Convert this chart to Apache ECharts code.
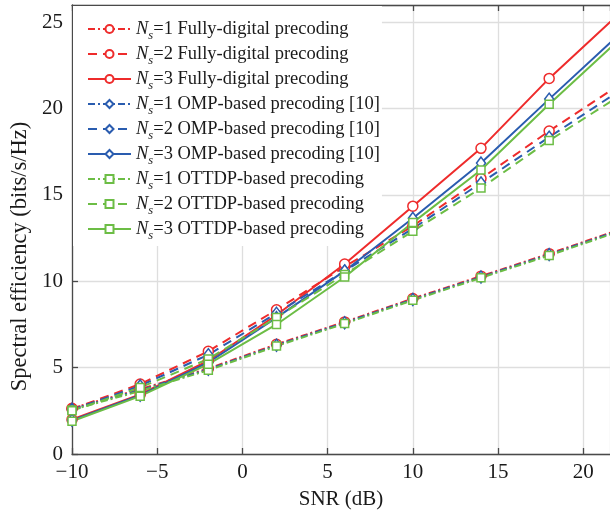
<!DOCTYPE html>
<html><head><meta charset="utf-8">
<script src="https://cdn.jsdelivr.net/npm/echarts@6/dist/echarts.min.js"></script>
<style>html,body{margin:0;padding:0;background:#fff}#c{width:610px;height:516px}</style>
</head><body><div id="c"></div>
<script>
var snr = [-10, -6, -2, 2, 6, 10, 14, 18, 22];
var fd1 = [2.65, 3.75, 4.95, 6.35, 7.65, 9.0, 10.3, 11.6, 12.95];
var fd2 = [2.6, 4.05, 5.95, 8.35, 10.85, 13.2, 15.95, 18.7, 21.3];
var fd3 = [2.0, 3.45, 5.4, 8.05, 11.0, 14.35, 17.7, 21.75, 25.4];
var omp1 = [2.6, 3.7, 4.9, 6.3, 7.6, 8.95, 10.25, 11.55, 12.9];
var omp2 = [2.55, 3.95, 5.75, 8.15, 10.6, 13.05, 15.7, 18.35, 20.95];
var omp3 = [1.95, 3.4, 5.3, 7.9, 10.6, 13.65, 16.85, 20.55, 24.2];
var ott1 = [2.55, 3.65, 4.85, 6.25, 7.55, 8.9, 10.2, 11.5, 12.85];
var ott2 = [2.5, 3.85, 5.5, 7.9, 10.4, 12.9, 15.4, 18.15, 20.65];
var ott3 = [1.9, 3.35, 5.2, 7.5, 10.25, 13.4, 16.45, 20.25, 23.9];
var nsLabels = ['1', '2', '3'];
var methodNames = ['Fully-digital precoding', 'OMP-based precoding [10]', 'OTTDP-based precoding'];
var xLabel = 'SNR (dB)';
var yLabel = 'Spectral efficiency (bits/s/Hz)';

var FONT = '"Liberation Serif","Times New Roman",serif';
var colors = ['#ee2b2b', '#2a5caf', '#6cbd45'];
var symbols = ['circle', 'diamond', 'rect'];
var dashes = [[7, 3, 2, 3], [9, 6], 'solid'];
var allData = [[fd1, fd2, fd3], [omp1, omp2, omp3], [ott1, ott2, ott3]];

function pairs(ys) { return snr.map(function (x, i) { return [x, ys[i]]; }); }

var series = [], legendData = [];
for (var m = 0; m < 3; m++) {
  for (var n = 0; n < 3; n++) {
    var name = '{i|N}{sub|s}{t|=' + nsLabels[n] + ' ' + methodNames[m] + '}';
    legendData.push(name);
    series.push({
      name: name, type: 'line', data: pairs(allData[m][n]),
      symbol: symbols[m], symbolSize: m === 1 ? [9, 12] : (m === 2 ? 8 : 10),
      showAllSymbol: true,
      itemStyle: { color: '#fff', borderColor: colors[m], borderWidth: 1.5 },
      lineStyle: { color: colors[m], width: 2, type: dashes[n] },
      emphasis: { disabled: true }, animation: false
    });
  }
}

function fmtX(v) {
  if (Math.abs(v % 5) > 1e-6) return '';
  return String(v).replace('-', '\u2212');
}

var chart = echarts.init(document.getElementById('c'), null, { renderer: 'canvas' });
chart.setOption({
  animation: false,
  backgroundColor: '#fff',
  grid: { left: 72, right: 0, top: 5, bottom: 62, containLabel: false },
  legend: {
    data: legendData, orient: 'vertical', left: 73, top: 6, z: 1,
    backgroundColor: '#fff', padding: [13, 2, 4, 14],
    itemWidth: 43, itemHeight: 10, itemGap: 2,
    textStyle: {
      fontFamily: FONT, fontSize: 18.5, color: '#1a1a1a', lineHeight: 20,
      rich: {
        i: { fontFamily: FONT, fontSize: 18.5, fontStyle: 'italic', color: '#1a1a1a', lineHeight: 20 },
        sub: { fontFamily: FONT, fontSize: 12.5, fontStyle: 'italic', color: '#1a1a1a', lineHeight: 20, verticalAlign: 'bottom', padding: [0, 0, -3, 0] },
        t: { fontFamily: FONT, fontSize: 18.5, color: '#1a1a1a', lineHeight: 20 }
      }
    }
  },
  xAxis: [{
    type: 'value', min: -10, max: 21.57, interval: 5,
    name: xLabel, nameLocation: 'middle', nameGap: 35,
    nameTextStyle: { fontFamily: FONT, fontSize: 21, color: '#1a1a1a' },
    axisLine: { show: true, onZero: false, lineStyle: { color: '#4a4a4a', width: 1.3 } },
    axisTick: { inside: true, length: 6, lineStyle: { color: '#4a4a4a', width: 1.3 } },
    axisLabel: { fontFamily: FONT, fontSize: 21, color: '#1a1a1a', margin: 8, formatter: fmtX, showMaxLabel: false },
    splitLine: { show: true, lineStyle: { color: '#dedede', width: 1.3 } }
  }, {
    type: 'value', position: 'top', min: -10, max: 21.57, interval: 5,
    axisLine: { show: true, onZero: false, lineStyle: { color: '#4a4a4a', width: 1.3 } },
    axisTick: { inside: true, length: 6, lineStyle: { color: '#4a4a4a', width: 1.3 } },
    axisLabel: { show: false }, splitLine: { show: false }
  }],
  yAxis: {
    type: 'value', min: 0, max: 26, interval: 5,
    name: yLabel, nameLocation: 'middle', nameGap: 39, nameRotate: 90,
    nameTextStyle: { fontFamily: FONT, fontSize: 22.5, color: '#1a1a1a', padding: [0, 54, 0, 0] },
    axisLine: { show: true, onZero: false, lineStyle: { color: '#4a4a4a', width: 1.3 } },
    axisTick: { inside: true, length: 6, lineStyle: { color: '#4a4a4a', width: 1.3 } },
    axisLabel: { fontFamily: FONT, fontSize: 21, color: '#1a1a1a', margin: 9, showMaxLabel: false,
      formatter: function (v) { return Math.abs(v % 5) > 1e-6 ? '' : String(v); } },
    splitLine: { show: true, lineStyle: { color: '#dedede', width: 1.3 } }
  },
  series: series
});
</script></body></html>
